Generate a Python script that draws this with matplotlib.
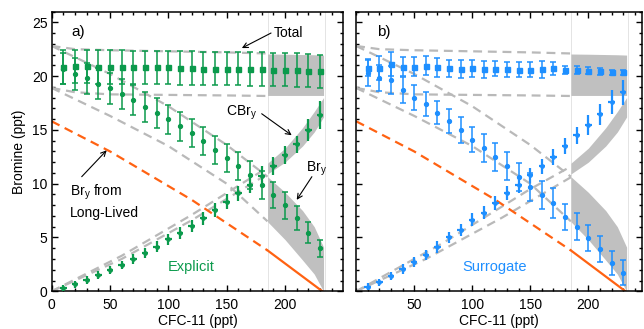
import matplotlib.pyplot as plt
import numpy as np

plt.rcParams['font.family'] = ['Liberation Sans', 'DejaVu Sans']
plt.rcParams['mathtext.default'] = 'regular'

# CFC-11 bins (ppt)
cfc = [10, 20, 30, 40, 50, 60, 70, 80, 90, 100, 110, 120,
       130, 140, 150, 160, 170, 180, 190, 200, 210, 220, 230]

# panel a) explicit
tot_a = [20.85, 20.9, 20.9, 20.85, 20.85, 20.85, 20.8, 20.8, 20.8, 20.8, 20.75, 20.75,
         20.7, 20.7, 20.7, 20.7, 20.65, 20.65, 20.6, 20.6, 20.55, 20.5, 20.45]
tot_a_err = [1.55] * 23
bry_a = [20.7, 20.2, 19.8, 19.3, 18.85, 18.3, 17.8, 17.15, 16.6, 16.0, 15.35, 14.7,
         14.0, 13.1, 12.35, 11.6, 10.8, 9.9, 8.95, 8.0, 6.8, 5.45, 4.0]
bry_a_err = [1.45, 1.45, 1.45, 1.45, 1.4, 1.4, 1.4, 1.4, 1.4, 1.35, 1.35, 1.3,
             1.3, 1.3, 1.3, 1.3, 1.3, 1.3, 1.25, 1.25, 1.1, 1.0, 0.8]
cbry_a = [0.33, 0.65, 1.05, 1.5, 1.98, 2.44, 3.0, 3.53, 4.15, 4.83, 5.39, 6.07,
          6.8, 7.55, 8.33, 9.1, 9.9, 10.7, 11.65, 12.66, 13.66, 15.0, 16.4]
cbry_a_err = [0.3, 0.3, 0.35, 0.35, 0.4, 0.4, 0.45, 0.45, 0.5, 0.5, 0.55, 0.55,
              0.6, 0.65, 0.7, 0.7, 0.75, 0.9, 0.85, 0.8, 0.8, 1.0, 1.3]

# panel b) surrogate
tot_b = [20.78, 20.78, 21.1, 20.87, 20.87, 20.97, 20.82, 20.72, 20.66, 20.72, 20.63, 20.66,
         20.63, 20.57, 20.57, 20.63, 20.72, 20.57, 20.54, 20.5, 20.44, 20.35, 20.35]
tot_b_err = [0.8, 1.1, 1.1, 0.9, 0.9, 0.9, 0.9, 0.8, 0.8, 0.8, 0.8, 0.7,
             0.7, 0.7, 0.7, 0.8, 0.6, 0.4, 0.35, 0.3, 0.3, 0.25, 0.25]
bry_b = [20.3, 19.8, 19.64, 18.7, 18.0, 17.4, 16.6, 15.85, 15.0, 14.1, 13.3, 12.5,
         11.6, 10.65, 9.72, 8.95, 8.18, 6.93, 6.0, 4.93, 3.9, 2.66, 1.73]
bry_b_err = [1.2, 1.2, 1.3, 1.2, 1.15, 1.1, 1.1, 1.1, 1.2, 1.2, 1.3, 1.3,
             1.3, 1.3, 1.3, 1.3, 1.4, 1.2, 1.25, 1.2, 1.2, 1.1, 1.15]
cbry_b = [0.43, 0.83, 1.42, 2.07, 2.75, 3.37, 4.15, 5.0, 5.7, 6.63, 7.3, 8.18,
          9.1, 9.88, 10.8, 11.64, 12.5, 13.5, 14.5, 15.45, 16.45, 17.6, 18.5]
cbry_b_err = [0.3, 0.35, 0.4, 0.45, 0.45, 0.5, 0.55, 0.55, 0.6, 0.6, 0.6, 0.65,
              0.65, 0.7, 0.7, 0.7, 0.75, 0.75, 0.8, 0.9, 1.0, 1.1, 1.16]
cfc_err = 2.8

# model envelopes (dashed part, CFC-11 < 185)
tot_env_x = [0, 20, 50, 100, 150, 185]
tot_hi = [22.8, 22.5, 22.4, 22.3, 22.2, 22.1]
tot_lo = [18.9, 18.5, 18.3, 18.25, 18.2, 18.15]
bry_env_x = [0, 50, 100, 150, 185]
bry_hi = [22.8, 20.2, 17.2, 13.6, 10.65]
bry_lo = [18.9, 16.3, 13.5, 10.0, 6.5]
cb_a_x = [0, 60, 120, 185]
cb_a_lo = [0, 3.0, 6.6, 10.9]
cb_a_hi = [0, 3.3, 7.1, 11.5]
cb_b_lo_x = [0, 60, 125, 185]
cb_b_lo = [0, 3.0, 6.8, 10.6]
cb_b_hi_x = [0, 75, 150, 185]
cb_b_hi = [0, 4.5, 9.5, 11.6]

# shaded ranges (185 < CFC-11 < 233)
sh_x = [185, 200, 215, 225, 233]
sh_tot_hi = [22.05, 22.03, 22.0, 21.98, 21.95]
sh_tot_lo = [18.2, 18.2, 18.2, 18.2, 18.2]
sh_bry_hi = [10.65, 9.2, 7.5, 6.0, 4.1]
sh_bry_lo = [6.47, 4.8, 2.9, 1.6, 0.0]
sh_cb_lo = [10.9, 12.0, 13.5, 14.8, 16.2]
sh_cb_hi = [11.9, 13.3, 15.2, 16.7, 18.0]

# Bry from long-lived
ll_x_dash = [0, 50, 120, 185]
ll_dash = [15.8, 13.0, 8.5, 3.8]
ll_x_solid = [185, 232]
ll_solid = [3.8, 0.0]

green = '#0b9a4c'
blue = '#1e8fff'
orange = '#ff6212'
gray = '#b9b9b9'
shade = '#c0c0c0'

fig = plt.figure(figsize=(6.44, 3.29), dpi=100)
ax_a = fig.add_axes([51.6/644, 1 - 291.3/329, 291.8/644, 279.8/329])
ax_b = fig.add_axes([356.1/644, 1 - 291.3/329, 285.6/644, 279.8/329])


def background(ax, cbx_lo, cblo, cbx_hi, cbhi):
    for xv in (185, 234):
        ax.axvline(xv, color='#e4e4e4', lw=0.7, zorder=0)
    ax.fill_between(sh_x, sh_tot_lo, sh_tot_hi, color=shade, lw=0, zorder=1)
    ax.fill_between(sh_x, sh_bry_lo, sh_bry_hi, color=shade, lw=0, zorder=1)
    ax.fill_between(sh_x, sh_cb_lo, sh_cb_hi, color=shade, lw=0, zorder=1)
    kw = dict(color=gray, lw=1.6, dashes=(4, 2.6), zorder=2)
    ax.plot(tot_env_x, tot_hi, **kw)
    ax.plot(tot_env_x, tot_lo, **kw)
    ax.plot(bry_env_x, bry_hi, **kw)
    ax.plot(bry_env_x, bry_lo, **kw)
    ax.plot(cbx_lo, cblo, **kw)
    ax.plot(cbx_hi, cbhi, **kw)
    ax.plot(ll_x_dash, ll_dash, color=orange, lw=1.6, dashes=(4, 2.6), zorder=2)
    ax.plot(ll_x_solid, ll_solid, color=orange, lw=1.6, zorder=2)


def points(ax, col, tot, tot_err, bry, bry_err, cbry, cbry_err):
    ekw = dict(ecolor=col, elinewidth=1.1, capsize=2.2, capthick=1.1, zorder=4)
    ax.errorbar(cfc, tot, yerr=tot_err, fmt='s', ms=3.6, color=col, **ekw)
    ax.errorbar(cfc, bry, yerr=bry_err, fmt='o', ms=2.8, color=col, **ekw)
    ax.errorbar(cfc, cbry, yerr=cbry_err, xerr=cfc_err, fmt='o', ms=2.4,
                color=col, ecolor=col, elinewidth=1.6, capsize=0, zorder=4)


def style(ax, xlim):
    ax.set_xlim(*xlim)
    ax.set_ylim(0, 26)
    ax.set_xticks([0, 50, 100, 150, 200])
    ax.set_xticks(np.arange(0, 250, 10), minor=True)
    ax.set_yticks([0, 5, 10, 15, 20, 25])
    ax.set_yticks(np.arange(0, 27, 1), minor=True)
    ax.tick_params(which='both', direction='in', top=True, right=True,
                   width=1.0, labelsize=10)
    ax.tick_params(which='major', length=4.5)
    ax.tick_params(which='minor', length=2.3)
    ax.tick_params(axis='x', pad=5)
    ax.tick_params(axis='y', pad=3)
    for s in ax.spines.values():
        s.set_linewidth(1.1)
    ax.set_xlabel('CFC-11 (ppt)', fontsize=10, labelpad=1)


background(ax_a, cb_a_x, cb_a_lo, cb_a_x, cb_a_hi)
points(ax_a, green, tot_a, tot_a_err, bry_a, bry_a_err, cbry_a, cbry_a_err)
style(ax_a, (0, 250))
ax_a.set_ylabel('Bromine (ppt)', fontsize=10, labelpad=4)
ax_a.text(17, 24.05, 'a)', fontsize=11, va='center', ha='left')
ax_a.text(119.5, 2.3, 'Explicit', color=green, fontsize=10.5, ha='center', va='center')

arr = dict(arrowstyle='->', color='black', lw=0.8, shrinkA=0, shrinkB=0,
           mutation_scale=9)
ax_a.text(190, 24.0, 'Total', fontsize=10, ha='left', va='center')
ax_a.annotate('', xy=(163, 22.6), xytext=(188, 24.0), arrowprops=arr)
ax_a.text(163, 16.55, 'CBr$_{\\mathregular{y}}$', fontsize=10, ha='center', va='center')
ax_a.annotate('', xy=(205.7, 14.5), xytext=(180, 16.5), arrowprops=arr)
ax_a.text(226.5, 11.4, 'Br$_{\\mathregular{y}}$', fontsize=10, ha='center', va='center')
ax_a.annotate('', xy=(210, 8.5), xytext=(223, 10.65), arrowprops=arr)
ax_a.text(15.8, 10.1, 'Br$_{\\mathregular{y}}$ from\nLong-Lived', fontsize=10,
          ha='left', va='top', linespacing=1.35)
ax_a.annotate('', xy=(47.2, 13.1), xytext=(25.8, 10.65), arrowprops=arr)

background(ax_b, cb_b_lo_x, cb_b_lo, cb_b_hi_x, cb_b_hi)
points(ax_b, blue, tot_b, tot_b_err, bry_b, bry_b_err, cbry_b, cbry_b_err)
style(ax_b, (0, 246))
ax_b.set_xticks([50, 100, 150, 200])
ax_b.set_yticklabels([])
ax_b.text(18, 24.05, 'b)', fontsize=11, va='center', ha='left')
ax_b.text(119, 2.3, 'Surrogate', color=blue, fontsize=10.5, ha='center', va='center')

fig.savefig('out.png', dpi=100)
